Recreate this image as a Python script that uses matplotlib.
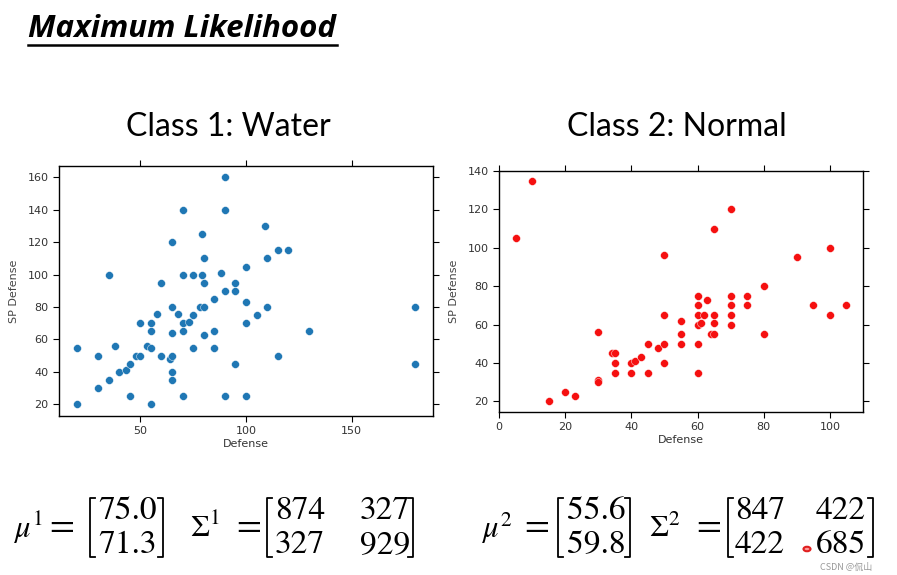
import numpy as np
import matplotlib as mpl
import matplotlib.pyplot as plt
from matplotlib.lines import Line2D
from matplotlib.patches import Circle

# class 1: water
water_def = [20, 20, 30, 30, 35, 35, 38, 40, 43, 45, 45, 48, 50, 50, 53, 55, 55, 55, 55,
             58, 60, 60, 64, 65, 65, 65, 65, 65, 65, 68, 70, 70, 70, 70, 70, 73, 75, 75, 75,
             78, 79, 79, 80, 80, 80, 80, 85, 85, 85, 88, 90, 90, 90, 90, 95, 95, 95,
             100, 100, 100, 100, 105, 109, 110, 110, 115, 115, 120, 130, 180, 180]
water_spdef = [55, 20, 50, 30, 100, 35, 56, 40, 41, 45, 25, 50, 50, 70, 56, 70, 65, 55, 20,
               76, 95, 50, 48, 50, 40, 35, 64, 80, 120, 76, 140, 100, 70, 65, 25, 71, 100, 75, 55,
               80, 125, 100, 110, 95, 80, 63, 85, 65, 55, 101, 160, 140, 90, 25, 95, 90, 45,
               105, 83, 70, 25, 75, 130, 110, 80, 115, 50, 115, 65, 80, 45]

# class 2: normal
normal_def = [5, 10, 15, 20, 23, 30, 30, 30, 34, 35, 35, 35, 40, 40, 41, 43, 45, 45, 48,
              50, 50, 50, 50, 55, 55, 55, 60, 60, 60, 60, 60, 60, 61, 62, 63, 64, 65, 65, 65, 65,
              70, 70, 70, 70, 70, 75, 75, 80, 80, 90, 95, 100, 100, 105]
normal_spdef = [105, 135, 20, 25, 23, 56, 31, 30, 45, 45, 40, 35, 40, 35, 41, 43, 50, 35, 48,
                96, 65, 50, 40, 62, 55, 50, 75, 70, 65, 60, 50, 35, 61, 65, 73, 55, 55, 65, 61, 110,
                120, 75, 70, 65, 60, 75, 70, 80, 55, 95, 70, 100, 65, 70]

mu1 = ["75.0", "71.3"]
sigma1 = [["874", "327"], ["327", "929"]]
mu2 = ["55.6", "59.8"]
sigma2 = [["847", "422"], ["422", "685"]]

W, H = 897, 575
fig = plt.figure(figsize=(W / 100, H / 100), dpi=100)
mpl.rcParams['mathtext.fontset'] = 'stix'


def px(x, y):
    return x / W, 1 - y / H


def style_axes(ax):
    ax.tick_params(direction='out', top=True, right=True, labelsize=8,
                   labelcolor='#333333', length=4, width=0.8)
    for s in ax.spines.values():
        s.set_linewidth(1.0)
    ax.set_xlabel("Defense", fontsize=8, color='#333333', labelpad=2)
    ax.set_ylabel("SP Defense", fontsize=8, color='#444444', labelpad=6)


ax1 = fig.add_axes([59 / W, 1 - 416 / H, (433 - 59) / W, (416 - 166) / H])
ax1.scatter(water_def, water_spdef, s=32, color='#1f77b4', edgecolor='white', linewidth=0.3)
ax1.set_xlim(11.5, 188.5)
ax1.set_ylim(12.8, 167)
ax1.set_xticks([50, 100, 150])
ax1.set_yticks(range(20, 161, 20))
style_axes(ax1)

ax2 = fig.add_axes([499 / W, 1 - 412 / H, (863 - 499) / W, (412 - 171) / H])
ax2.scatter(normal_def, normal_spdef, s=32, color='#f51010', edgecolor='white', linewidth=0.3)
ax2.set_xlim(0, 110)
ax2.set_ylim(14.5, 140)
ax2.set_xticks(range(0, 101, 20))
ax2.set_yticks(range(20, 141, 20))
style_axes(ax2)

# headings
fig.text(*px(28, 37), "Maximum Likelihood", family=['Open Sans', 'Lato'], weight='bold',
         style='italic', fontsize=22.5, ha='left', va='baseline')
fig.add_artist(Line2D([28 / W, 337 / W], [1 - 45 / H] * 2, color='black', lw=1.8))
fig.text(*px(228, 127), "Class 1: Water", family='Lato', fontsize=23, ha='center', va='center')
fig.text(*px(677, 127), "Class 2: Normal", family='Lato', fontsize=23, ha='center', va='center')

# formulas
fs = 24


def bracket(xl, xr, top=498, bot=557):
    for x, d in ((xl, 5), (xr, -5)):
        fig.add_artist(Line2D([(x + d) / W, x / W, x / W, (x + d) / W],
                              [1 - top / H, 1 - top / H, 1 - bot / H, 1 - bot / H],
                              color='black', lw=1.3))


def lhs(x, xeq, sym):
    fig.text(*px(x, 528), sym, fontsize=22, ha='left', va='center')
    fig.text(*px(xeq, 527), "=", family='STIXGeneral', fontsize=26, ha='center', va='center')


def vec(x, vals, xl, xr):
    fig.text(*px(x, 511), vals[0], family='STIXGeneral', fontsize=fs, ha='center', va='center')
    fig.text(*px(x, 545), vals[1], family='STIXGeneral', fontsize=fs, ha='center', va='center')
    bracket(xl, xr)


def mat(xa, xb, vals, xl, xr):
    for r, y in enumerate((511, 545)):
        fig.text(*px(xa, y), vals[r][0], family='STIXGeneral', fontsize=fs, ha='center', va='center')
        fig.text(*px(xb, y), vals[r][1], family='STIXGeneral', fontsize=fs, ha='center', va='center')
    bracket(xl, xr)


lhs(13, 62, r"$\mu^1$")
vec(128, mu1, 90, 163)
lhs(190, 249, r"$\Sigma^1$")
mat(300, 385, sigma1, 267, 413)

lhs(481, 537, r"$\mu^2$")
vec(596, mu2, 558, 630)
lhs(649, 709, r"$\Sigma^2$")
mat(760, 841, sigma2, 728, 873)

# watermark / cursor
fig.add_artist(Circle(px(807, 549), 3.5 / W, transform=fig.transFigure,
                      facecolor='#ff9999', edgecolor='#e02020', lw=1.5))
fig.text(*px(846, 567), "CSDN @侃山", family=['Noto Sans CJK SC', 'DejaVu Sans'],
         fontsize=6.5, color='#999999', ha='center', va='center')

fig.savefig("out.png", dpi=100)
